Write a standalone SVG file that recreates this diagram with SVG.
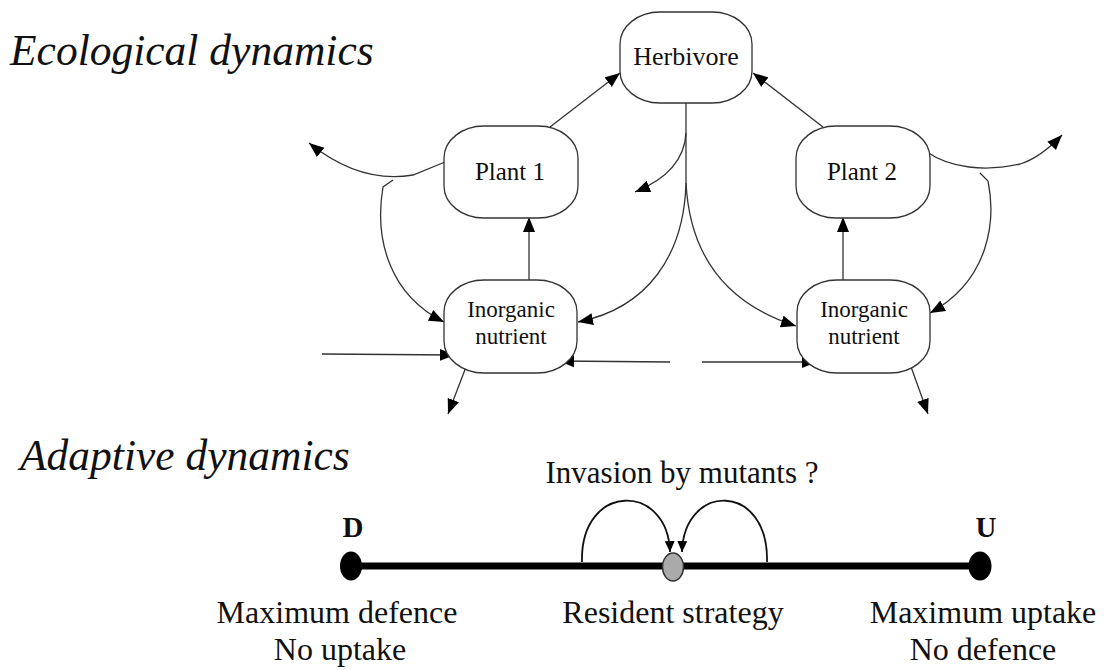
<svg xmlns="http://www.w3.org/2000/svg" width="1104" height="670" viewBox="0 0 1104 670">
<style>
.node rect{fill:#fff;stroke:#333;stroke-width:1.3}
.lbl{font-family:"Liberation Serif","Times New Roman",serif;font-size:26px;fill:#111;text-anchor:middle}
.lbl2{font-family:"Liberation Serif","Times New Roman",serif;font-size:23px;fill:#111;text-anchor:middle}
.title{font-family:"Liberation Serif","Times New Roman",serif;font-style:italic;font-size:43.5px;fill:#111}
.txt{font-family:"Liberation Serif","Times New Roman",serif;font-size:32px;fill:#111;text-anchor:middle}
.bold{font-family:"Liberation Serif","Times New Roman",serif;font-size:29px;font-weight:bold;fill:#111;text-anchor:middle}
.c{fill:none;stroke:#333;stroke-width:1.3;marker-end:url(#ah)}
.cn{fill:none;stroke:#333;stroke-width:1.3}
.arc{fill:none;stroke:#111;stroke-width:1.8;marker-end:url(#ah2)}
</style>
<defs>
<marker id="ah" markerUnits="userSpaceOnUse" markerWidth="16" markerHeight="13" refX="15" refY="6.5" orient="auto">
<path d="M0,0.5 L15,6.5 L0,12.5 z" fill="#000"/>
</marker>
<marker id="ah2" markerUnits="userSpaceOnUse" markerWidth="12" markerHeight="10" refX="11" refY="5" orient="auto">
<path d="M0,0 L11,5 L0,10 z" fill="#000"/>
</marker>
</defs>
<rect width="1104" height="670" fill="#fff"/>

<text class="title" x="10" y="65">Ecological dynamics</text>
<text class="title" x="20" y="470">Adaptive dynamics</text>

<g id="connectors">
<path class="c" d="M550,127 L620,73"/>
<path class="c" d="M823,127 L753,73"/>
<path class="c" d="M529,280 L529,217"/>
<path class="c" d="M843,280 L843,217"/>
<path class="c" d="M445,162 L413,175 Q360,184 309,143"/>
<path class="c" d="M393,180 L383,187 C374,240 390,295 444,322"/>
<path class="cn" d="M686,103 L686,183"/>
<path class="c" d="M686,133 Q684,172 635,192"/>
<path class="c" d="M686,183 C684,255 648,308 578,322"/>
<path class="c" d="M686,183 C690,260 730,305 796,326"/>
<path class="c" d="M927,152 C950,168 985,172 1020,164 Q1040,158 1062,135"/>
<path class="c" d="M980,173 L988,181 C996,220 990,280 930,313"/>
<path class="c" d="M322,354 L455,355"/>
<path class="c" d="M670,362 L559,361"/>
<path class="c" d="M702,362 L817,362"/>
<path class="c" d="M466,367 L448,414"/>
<path class="c" d="M910,364 L928,414"/>
</g>

<g id="herbivore" class="node">
<rect x="620" y="12" width="132" height="91" rx="40" ry="32"/>
<text class="lbl" x="686" y="65">Herbivore</text>
</g>
<g id="plant1" class="node">
<rect x="444" y="126" width="134" height="92" rx="40" ry="32"/>
<text class="lbl" x="510" y="180" style="font-size:25px">Plant 1</text>
</g>
<g id="plant2" class="node">
<rect x="796" y="126" width="134" height="92" rx="40" ry="32"/>
<text class="lbl" x="862" y="180" style="font-size:25px">Plant 2</text>
</g>
<g id="nutrient1" class="node">
<rect x="444" y="280" width="133" height="93" rx="40" ry="32"/>
<text class="lbl2" x="511" y="317">Inorganic</text>
<text class="lbl2" x="511" y="344">nutrient</text>
</g>
<g id="nutrient2" class="node">
<rect x="797" y="280" width="133" height="93" rx="40" ry="32"/>
<text class="lbl2" x="864" y="317">Inorganic</text>
<text class="lbl2" x="864" y="344">nutrient</text>
</g>

<g id="axis">
<path d="M351,566 L980,566" stroke="#000" stroke-width="7" fill="none"/>
<ellipse cx="351" cy="566" rx="11" ry="14.5" fill="#000"/>
<ellipse cx="980" cy="566" rx="11.5" ry="14.5" fill="#000"/>
<text class="bold" x="353" y="537">D</text>
<text class="bold" x="986" y="537">U</text>
<text class="txt" x="337" y="623">Maximum defence</text>
<text class="txt" x="340" y="660">No uptake</text>
<text class="txt" x="983" y="623">Maximum uptake</text>
<text class="txt" x="983" y="660">No defence</text>
</g>
<g id="resident">
<path class="arc" d="M582,562 C580,482 668,482 670,552"/>
<path class="arc" d="M767,562 C769,482 684,482 682,552"/>
<ellipse cx="673" cy="567" rx="10.5" ry="14" fill="#aaa" stroke="#333" stroke-width="1.5"/>
<text class="txt" x="682" y="483" style="font-size:31px">Invasion by mutants ?</text>
<text class="txt" x="673" y="623">Resident strategy</text>
</g>
</svg>
